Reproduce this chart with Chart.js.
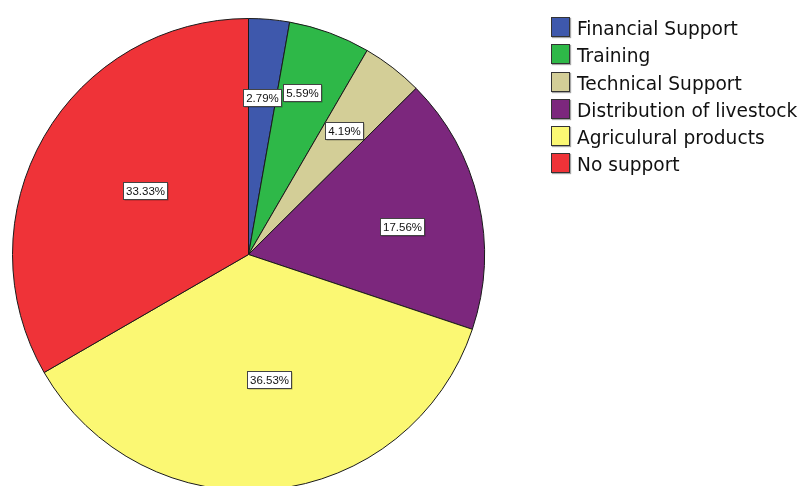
<!DOCTYPE html>
<html>
<head>
<meta charset="utf-8">
<script src="https://cdn.jsdelivr.net/npm/chart.js@4.4.1/dist/chart.umd.min.js"></script>
<style>
    html, body { margin: 0; padding: 0; background: #fff; overflow: hidden; }
    #wrap { position: absolute; left: 0; top: 0; width: 803px; height: 500px; }
    #legend { position: absolute; left: 551px; top: 17px; font-family: "DejaVu Sans", sans-serif; font-size: 18.6px; color: #111; }
    .legend-item { display: flex; align-items: flex-start; height: 27.3px; white-space: nowrap; }
    .legend-swatch { width: 19px; height: 20px; box-sizing: border-box; border: 1px solid #333; box-shadow: 1px 1px 1px rgba(0,0,0,0.35); }
    .legend-text { margin-left: 7px; line-height: 20px; position: relative; top: 2px; }
</style>
</head>
<body>
<div id="wrap"><canvas id="pieChart" width="803" height="500"></canvas></div>
<div id="legend"></div>
<script>
// Data
// ====
const categories = [
    'Financial Support',
    'Training',
    'Technical Support',
    'Distribution of livestock',
    'Agriculural products',
    'No support'
];
const percentages = [2.79, 5.59, 4.19, 17.56, 36.53, 33.33];
const sliceColors = ['#3e58ac', '#2eb848', '#d3ce97', '#7c277d', '#fbf873', '#ef3338'];

// Plugin: boxed percentage label at each slice centroid
const sliceLabels = {
    id: 'sliceLabels',
    afterDatasetsDraw(chart, args, opts) {
        const ctx = chart.ctx;
        const meta = chart.getDatasetMeta(0);
        const values = chart.data.datasets[0].data;
        ctx.save();
        ctx.font = opts.font;
        ctx.textAlign = 'center';
        ctx.textBaseline = 'middle';
        meta.data.forEach((arc, i) => {
            const p = arc.getProps(['x', 'y', 'startAngle', 'endAngle', 'outerRadius'], true);
            const half = (p.endAngle - p.startAngle) / 2;
            const mid = p.startAngle + half;
            const dist = 2 * p.outerRadius * Math.sin(half) / (3 * half);
            const nudge = opts.nudge[i] || [0, 0];
            const cx = p.x + Math.cos(mid) * dist + nudge[0];
            const cy = p.y + Math.sin(mid) * dist + nudge[1];
            const text = values[i].toFixed(2) + '%';
            const w = Math.round(ctx.measureText(text).width + 5);
            const h = 17;
            const x0 = Math.round(cx - w / 2) + 0.5;
            const y0 = Math.round(cy - h / 2) + 0.5;
            // shadow
            ctx.fillStyle = 'rgba(0,0,0,0.3)';
            ctx.fillRect(x0 + 1, y0 + 1, w, h);
            ctx.fillStyle = '#fff';
            ctx.fillRect(x0, y0, w, h);
            ctx.strokeStyle = '#444';
            ctx.lineWidth = 1;
            ctx.strokeRect(x0, y0, w, h);
            ctx.fillStyle = '#111';
            ctx.fillText(text, x0 + w / 2, y0 + h / 2 + 0.5);
        });
        ctx.restore();
    }
};

const pieChart = new Chart(document.getElementById('pieChart'), {
    type: 'pie',
    data: {
        labels: categories,
        datasets: [{
            data: percentages,
            backgroundColor: sliceColors,
            borderColor: '#1a1a1a',
            borderWidth: 1
        }]
    },
    options: {
        responsive: false,
        animation: false,
        layout: {
            padding: { left: 12, top: 18, right: 318, bottom: 9 }
        },
        plugins: {
            legend: { display: false },
            tooltip: { enabled: false },
            sliceLabels: {
                font: '11.5px "Liberation Sans", Arial, sans-serif',
                nudge: [[0, 0], [0, -15], [0, 0], [8, 6], [8, 1], [9, 1]]
            }
        }
    },
    plugins: [sliceLabels]
});

// HTML legend built from the chart data
function buildLegend(chart) {
    const box = document.getElementById('legend');
    chart.data.labels.forEach((label, i) => {
        const row = document.createElement('div');
        row.className = 'legend-item';
        const sw = document.createElement('div');
        sw.className = 'legend-swatch';
        sw.style.background = chart.data.datasets[0].backgroundColor[i];
        const tx = document.createElement('span');
        tx.className = 'legend-text';
        tx.textContent = label;
        row.appendChild(sw);
        row.appendChild(tx);
        box.appendChild(row);
    });
}
buildLegend(pieChart);
</script>
</body>
</html>
